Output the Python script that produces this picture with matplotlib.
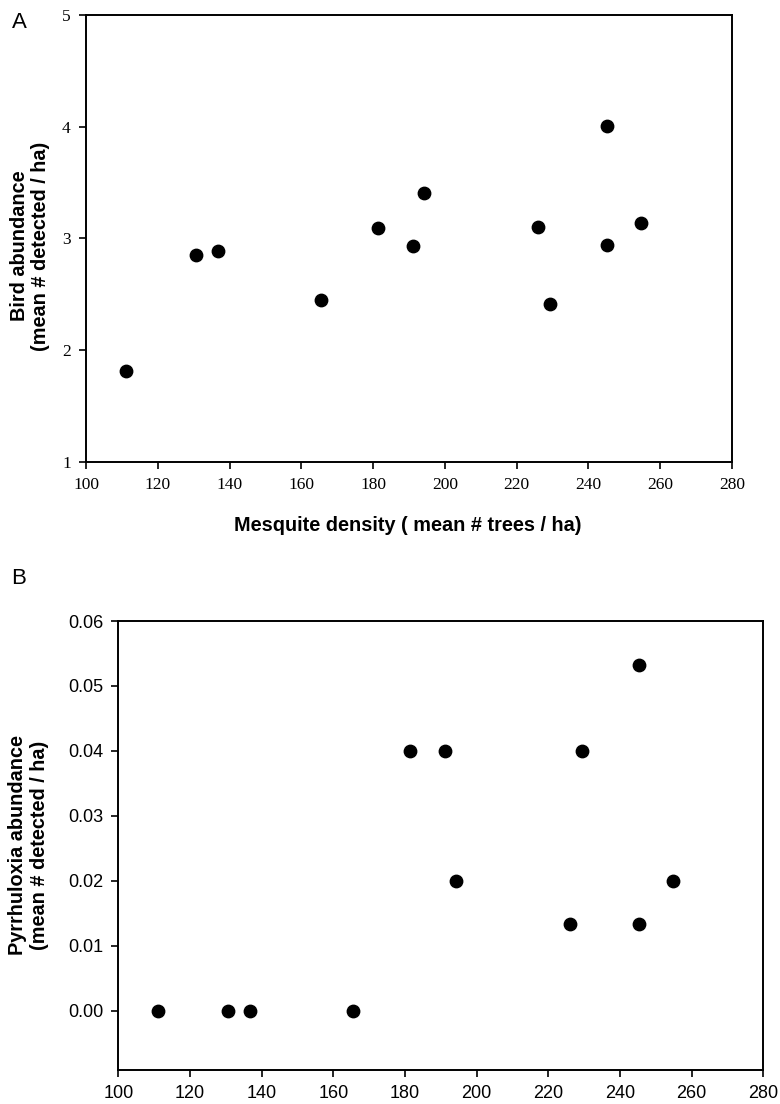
import matplotlib
matplotlib.use("Agg")
import matplotlib.pyplot as plt

# mesquite density (mean # trees / ha) for each site
density_a = [111.2, 130.6, 136.8, 165.4, 181.5, 191.2, 194.2, 226.0, 229.4, 245.3, 245.3, 254.7]
bird_abundance = [1.81, 2.85, 2.89, 2.45, 3.09, 2.93, 3.41, 3.10, 2.41, 4.01, 2.94, 3.14]

density_b = [111.2, 130.6, 136.8, 165.4, 181.5, 191.2, 194.2, 226.0, 229.4, 245.3, 245.3, 254.7]
pyrrhuloxia = [0.0, 0.0, 0.0, 0.0, 0.04, 0.04, 0.02, 0.0133, 0.04, 0.0533, 0.0133, 0.02]

x_ticks = [100, 120, 140, 160, 180, 200, 220, 240, 260, 280]
y_ticks_a = [1, 2, 3, 4, 5]
y_ticks_b = [0.00, 0.01, 0.02, 0.03, 0.04, 0.05, 0.06]

SANS = "Liberation Sans"
SERIF = "Liberation Serif"

fig = plt.figure(figsize=(7.8, 11.04), dpi=100, facecolor="white")

# --- panel A ---
ax_a = fig.add_axes([86 / 780, 1 - 462 / 1104, (732 - 86) / 780, (462 - 15) / 1104])
ax_a.scatter(density_a, bird_abundance, s=80, color="black", zorder=3, clip_on=False)
ax_a.set_xlim(100, 280)
ax_a.set_ylim(1, 5)
ax_a.set_xticks(x_ticks)
ax_a.set_yticks(y_ticks_a)
ax_a.set_xticklabels([str(t) for t in x_ticks], family=SERIF, fontsize=12.5)
ax_a.set_yticklabels([str(t) for t in y_ticks_a], family=SERIF, fontsize=12.5)
ax_a.tick_params(direction="out", length=5, width=1.2, pad=6)

# --- panel B ---
ax_b = fig.add_axes([118.3 / 780, 1 - 1070 / 1104, (763.3 - 118.3) / 780, (1070 - 621) / 1104])
ax_b.scatter(density_b, pyrrhuloxia, s=80, color="black", zorder=3, clip_on=False)
ax_b.set_xlim(100, 280)
ax_b.set_ylim(-0.0091, 0.06)
ax_b.set_xticks(x_ticks)
ax_b.set_yticks(y_ticks_b)
ax_b.set_xticklabels([str(t) for t in x_ticks], family=SANS, fontsize=13)
ax_b.set_yticklabels([f"{t:.2f}" for t in y_ticks_b], family=SANS, fontsize=13)
ax_b.tick_params(direction="out", length=5, width=1.2, pad=6)

for ax in (ax_a, ax_b):
    for sp in ax.spines.values():
        sp.set_linewidth(1.4)
        sp.set_color("black")

# labels
fig.text(408 / 780, 1 - 525 / 1104, "Mesquite density ( mean # trees / ha)",
         ha="center", va="center", family=SANS, fontsize=14.3, weight="bold")
fig.text(30 / 780, 1 - 246 / 1104, "Bird abundance\n(mean # detected / ha)",
         ha="center", va="center", rotation=90, multialignment="center",
         family=SANS, fontsize=14.3, weight="bold", linespacing=1.15)
fig.text(28.5 / 780, 1 - 845 / 1104, "Pyrrhuloxia abundance\n(mean # detected / ha)",
         ha="center", va="center", rotation=90, multialignment="center",
         family=SANS, fontsize=14.3, weight="bold", linespacing=1.15)

fig.text(19 / 780, 1 - 22 / 1104, "A", ha="center", va="center", family=SANS, fontsize=16)
fig.text(19 / 780, 1 - 578 / 1104, "B", ha="center", va="center", family=SANS, fontsize=16)

fig.savefig("out.png", dpi=100, facecolor="white")
